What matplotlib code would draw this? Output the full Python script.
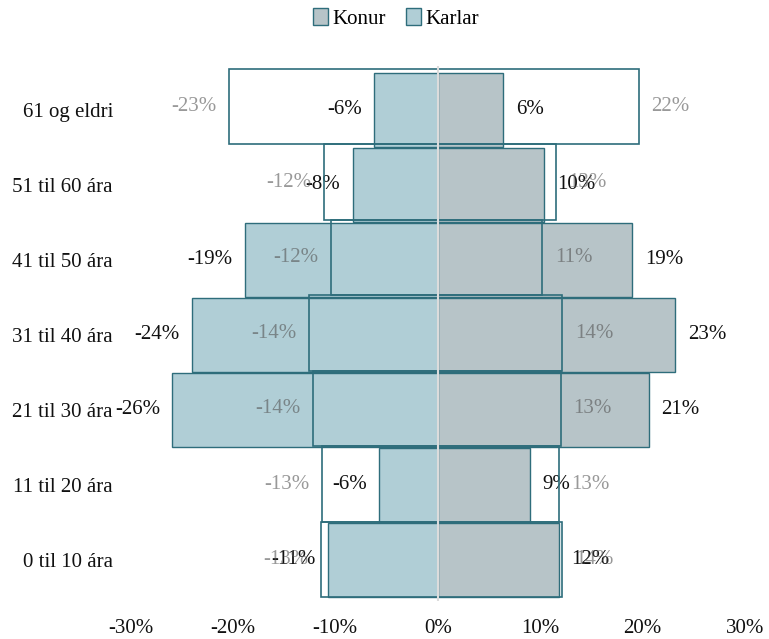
import matplotlib
matplotlib.use("Agg")
import matplotlib.pyplot as plt
from matplotlib.patches import Patch
from matplotlib.ticker import FuncFormatter, MultipleLocator

plt.rcParams['font.family'] = ['Liberation Serif', 'DejaVu Serif']

ages = ["0 til 10 ára", "11 til 20 ára", "21 til 30 ára", "31 til 40 ára",
        "41 til 50 ára", "51 til 60 ára", "61 og eldri"]

# filled bars (black labels), % of group
karlar = [-10.7, -5.7, -25.9, -24.0, -18.8, -8.3, -6.2]
konur = [11.8, 9.0, 20.6, 23.2, 19.0, 10.4, 6.4]

# outlined comparison bars (grey labels), on their own scale
karlar_ref = [-12.7, -12.6, -13.6, -14.0, -11.6, -12.4, -22.8]
konur_ref = [13.6, 13.2, 13.4, 13.6, 11.4, 12.9, 21.9]

blue = '#b0ced6'
grey = '#b7c4c8'
edge = '#2e6d7b'

fig = plt.figure(figsize=(7.69, 6.39), dpi=100)
rect = [0.1697, 0.0595, 0.799, 0.837]
ax = fig.add_axes(rect)

y = range(len(ages))
b1 = ax.barh(y, karlar, height=0.99, color=blue, edgecolor=edge, linewidth=1.0)
b2 = ax.barh(y, konur, height=0.99, color=grey, edgecolor=edge, linewidth=1.0)
ax.bar_label(b1, fmt="{:.0f}%", padding=9, fontsize=15, color='#111111')
ax.bar_label(b2, fmt="{:.0f}%", padding=9, fontsize=15, color='#111111')

ax.set_xlim(-30, 30)
ax.set_ylim(-0.549, 6.585)
ax.xaxis.set_major_locator(MultipleLocator(10))
ax.xaxis.set_major_formatter(FuncFormatter(lambda v, p: f"{v:.0f}%"))
ax.set_yticks(list(y), ages)
ax.tick_params(length=0, labelsize=15, labelcolor='#111111')
ax.tick_params(axis='x', pad=13)
ax.tick_params(axis='y', pad=12.6)
for s in ax.spines.values():
    s.set_visible(False)

# outline layer
ax2 = fig.add_axes(rect)
ax2.patch.set_visible(False)
ax2.axis('off')
o1 = ax2.barh(y, karlar_ref, height=1.0, facecolor='none', edgecolor=edge, linewidth=1.2)
o2 = ax2.barh(y, konur_ref, height=1.0, facecolor='none', edgecolor=edge, linewidth=1.2)
ax2.bar_label(o1, fmt="{:.0f}%", padding=9, fontsize=15, color='#555555', alpha=0.6)
ax2.bar_label(o2, fmt="{:.0f}%", padding=9, fontsize=15, color='#555555', alpha=0.6)
ax2.set_xlim(-33.5, 33.5)
ax2.set_ylim(-0.547, 6.536)
ax2.axvline(0, color='#dcdcdc', lw=1.5, zorder=5)

handles = [Patch(facecolor=grey, edgecolor=edge, label='Konur'),
           Patch(facecolor=blue, edgecolor=edge, label='Karlar')]
fig.legend(handles=handles, loc='upper center', bbox_to_anchor=(0.515, 1.017), ncol=2,
           frameon=False, handlelength=0.7, handleheight=0.9, handletextpad=0.2,
           columnspacing=1.0, fontsize=15)

fig.savefig('out.png', dpi=100)
